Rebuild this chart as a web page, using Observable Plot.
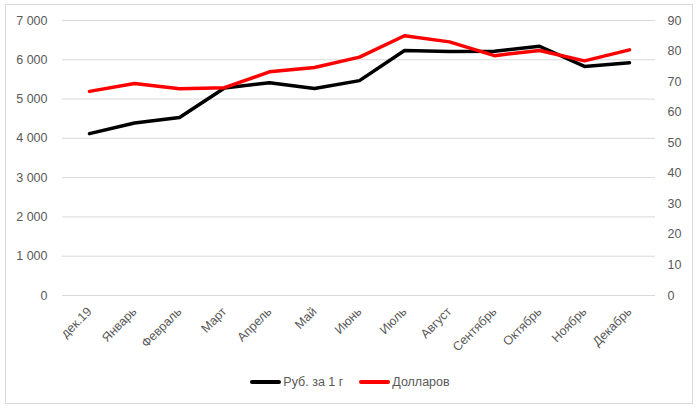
<!DOCTYPE html>
<html>
<head>
<meta charset="utf-8">
<script src="https://cdn.jsdelivr.net/npm/d3@7"></script>
<script src="https://cdn.jsdelivr.net/npm/@observablehq/plot@0.6"></script>
<style>
  html, body { margin: 0; padding: 0; background: #fff; }
  #wrap { position: relative; width: 700px; height: 408px; overflow: hidden; }
  #frame { position: absolute; left: 5px; top: 4px; width: 688px; height: 400px; box-sizing: border-box; border: 1px solid #d9d9d9; pointer-events: none; }
  #legend { position: absolute; left: 0; top: 372px; width: 700px; height: 20px; display: flex; justify-content: center; align-items: center; font-family: "Liberation Sans", sans-serif; font-size: 12.5px; color: #595959; }
  .item { display: flex; align-items: center; margin: 0 8px; }
  .sw { width: 31px; height: 4px; border-radius: 2px; margin-right: 2px; }
</style>
</head>
<body>
<div id="wrap">
  <div id="chart"></div>
  <div id="legend"></div>
  <div id="frame"></div>
</div>
<script>
const months = ["дек.19","Январь","Февраль","Март","Апрель","Май","Июнь","Июль","Август","Сентябрь","Октябрь","Ноябрь","Декабрь"];
const rub = [4120, 4390, 4530, 5280, 5415, 5270, 5470, 6235, 6210, 6220, 6345, 5830, 5925];
const usd = [66.8, 69.4, 67.7, 68.0, 73.2, 74.6, 78.0, 85.0, 83.0, 78.5, 80.2, 76.8, 80.4];
const leftTicks = [0, 1000, 2000, 3000, 4000, 5000, 6000, 7000];
const rightTicks = [0, 10, 20, 30, 40, 50, 60, 70, 80, 90];
const seriesNames = ["Руб. за 1 г", "Долларов"];
const seriesColors = ["#000000", "#ff0000"];

const leftMax = 7000, rightMax = 90;
const k = leftMax / rightMax;

const rows = months.map((m, i) => ({month: m, rub: rub[i], usd: usd[i]}));

const fmt = d => d3.format(",")(d).replace(/,/g, "\u00a0");

const chart = Plot.plot({
  width: 700,
  height: 360,
  marginTop: 20,
  marginBottom: 65,
  marginLeft: 62,
  marginRight: 45,
  style: {fontFamily: "'Liberation Sans', sans-serif", fontSize: "12.5px", color: "#595959", background: "transparent"},
  x: {type: "point", domain: months, padding: 0.5},
  y: {domain: [0, leftMax]},
  marks: [
    Plot.ruleY(leftTicks, {stroke: "#d9d9d9", strokeWidth: 1, strokeOpacity: 1}),
    Plot.axisY(leftTicks, {anchor: "left", tickSize: 0, tickPadding: 15, tickFormat: fmt, label: null}),
    Plot.axisY(rightTicks.map(d => d * k), {anchor: "right", tickSize: 0, tickPadding: 12, tickFormat: d => String(Math.round(d / k)), textAnchor: "start", label: null}),
    Plot.axisX({tickSize: 0, tickPadding: 14, tickRotate: -45, label: null}),
    Plot.line(rows, {x: "month", y: "rub", stroke: seriesColors[0], strokeWidth: 3.5, strokeLinejoin: "round", strokeLinecap: "round"}),
    Plot.line(rows, {x: "month", y: d => d.usd * k, stroke: seriesColors[1], strokeWidth: 3.5, strokeLinejoin: "round", strokeLinecap: "round"})
  ]
});
document.getElementById("chart").appendChild(chart);

const legend = document.getElementById("legend");
seriesNames.forEach((n, i) => {
  const it = document.createElement("div");
  it.className = "item";
  const sw = document.createElement("div");
  sw.className = "sw";
  sw.style.background = seriesColors[i];
  const t = document.createElement("span");
  t.textContent = n;
  it.appendChild(sw);
  it.appendChild(t);
  legend.appendChild(it);
});
</script>
</body>
</html>
